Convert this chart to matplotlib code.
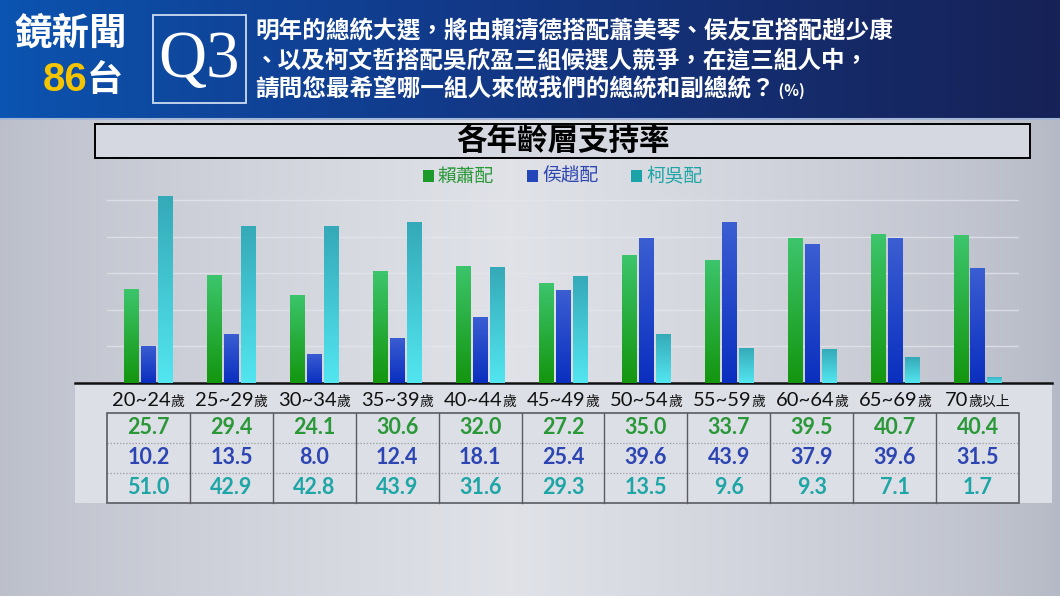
import matplotlib
matplotlib.use('Agg')
import matplotlib.pyplot as plt
import numpy as np
from matplotlib.patches import Rectangle
from matplotlib.colors import LinearSegmentedColormap
from matplotlib.offsetbox import TextArea, HPacker, AnnotationBbox

plt.rcParams['font.family'] = ['Noto Sans CJK TC', 'DejaVu Sans']

# data
age_groups = ['20~24', '25~29', '30~34', '35~39', '40~44', '45~49',
              '50~54', '55~59', '60~64', '65~69', '70']
age_suffix = ['歲'] * 10 + ['歲以上']
lai_hsiao = [25.7, 29.4, 24.1, 30.6, 32.0, 27.2, 35.0, 33.7, 39.5, 40.7, 40.4]
hou_chao = [10.2, 13.5, 8.0, 12.4, 18.1, 25.4, 39.6, 43.9, 37.9, 39.6, 31.5]
ko_wu = [51.0, 42.9, 42.8, 43.9, 31.6, 29.3, 13.5, 9.6, 9.3, 7.1, 1.7]
series_names = ['賴蕭配', '侯趙配', '柯吳配']
series = [lai_hsiao, hou_chao, ko_wu]

title = '各年齡層支持率'
question = ['明年的總統大選，將由賴清德搭配蕭美琴、侯友宜搭配趙少康',
            '、以及柯文哲搭配吳欣盈三組候選人競爭，在這三組人中，',
            '請問您最希望哪一組人來做我們的總統和副總統？']

# colours: (bottom, top) of each bar gradient, then text colour
bar_grads = [('#14960f', '#3cc56c'), ('#0a2fbf', '#3b5ed2'), ('#52e6f0', '#35a9b7')]
text_cols = ['#2a9838', '#2d45b2', '#1ea5a6']
legend_cols = ['#1e9a2a', '#2346b8', '#1aa3a8']

W, H = 1060, 596
fig = plt.figure(figsize=(W / 100, H / 100), dpi=100)

# full-figure axes in pixel coordinates for the backdrop, header and table
bg = fig.add_axes([0, 0, 1, 1])
bg.set_xlim(0, W)
bg.set_ylim(H, 0)
bg.axis('off')

# body background gradient
xs = np.linspace(0, 1, 400)
prof = np.clip(1 - np.abs(xs - 0.48) / 0.52, 0, 1) ** 0.7
body_cm = LinearSegmentedColormap.from_list('body', ['#b5b9c5', '#e0e2e8'])
bg.imshow(prof[None, :], cmap=body_cm, extent=[0, W, H, 118], aspect='auto', zorder=0)

# header band
hx = np.linspace(0, 1, 400) ** 0.8
head_cm = LinearSegmentedColormap.from_list('head', ['#0b55b2', '#123a8a', '#172257'])
bg.imshow(hx[None, :], cmap=head_cm, extent=[0, W, 118, 0], aspect='auto', zorder=0)
bg.plot([0, W], [119, 119], color='#a4b6d6', lw=1.5, zorder=1)

bg.text(71, 33, '鏡新聞', color='white', fontsize=27, fontweight='bold',
        ha='center', va='center')
bg.text(87, 80, '86', color='#f4c400', fontsize=29, fontweight='bold',
        ha='right', va='center', family=['Liberation Sans', 'DejaVu Sans'])
bg.text(87, 80, '台', color='white', fontsize=26, fontweight='bold',
        ha='left', va='center')

bg.add_patch(Rectangle((153, 15), 93, 88, fill=False, ec='#cddcf2', lw=1.3, zorder=2))
bg.text(199, 61, 'Q3', color='white', fontsize=48, ha='center', va='center',
        family=['Liberation Serif', 'DejaVu Serif'])

for i, line in enumerate(question[:2]):
    bg.text(255, 31 + i * 29, line, color='white', fontsize=17,
            fontweight='bold', ha='left', va='center')
q3 = HPacker(children=[TextArea(question[2], textprops=dict(color='white', fontsize=17,
                                                           fontweight='bold')),
                       TextArea(' (%)', textprops=dict(color='white', fontsize=11,
                                                      fontweight='bold'))],
             align='baseline', pad=0, sep=0)
bg.add_artist(AnnotationBbox(q3, (255, 89), xycoords='data', box_alignment=(0, 0.5),
                             frameon=False, pad=0))

# title box
bg.add_patch(Rectangle((95, 124), 935, 34, fc='#d5d8e0', ec='black', lw=1.4, zorder=2))
bg.text(563, 141, title, color='black', fontsize=22, fontweight='bold',
        ha='center', va='center', zorder=3)

# legend
for i, (name, lc, tc) in enumerate(zip(series_names, legend_cols, text_cols)):
    x0 = 423 + i * 104
    bg.add_patch(Rectangle((x0, 170), 11, 12, fc=lc, ec='none', zorder=2))
    bg.text(x0 + 15, 176, name, color=tc, fontsize=13.5, ha='left', va='center')

# table panel
tab_left, tab_right, tab_top = 107, 1019, 413
col_w = (tab_right - tab_left) / len(age_groups)
row_h = 30
bg.add_patch(Rectangle((75, 384), 977, 119, fc='#dcdfe6', ec='none', zorder=1))
bg.plot([75, 1052], [383, 383], color='#111111', lw=1.8, zorder=5)

for r in range(1, 3):
    yy = tab_top + r * row_h
    bg.plot([tab_left, tab_right], [yy, yy], color='#9a9ca3', lw=0.9,
            ls=(0, (1, 1.5)), zorder=2)
for c in range(1, len(age_groups)):
    xx = tab_left + c * col_w
    bg.plot([xx, xx], [tab_top, tab_top + 3 * row_h], color='#5a5c62', lw=1.0, zorder=2)
bg.add_patch(Rectangle((tab_left, tab_top), tab_right - tab_left, 3 * row_h,
                       fill=False, ec='#5a5c62', lw=1.2, zorder=3))

num_font = ['Lato', 'DejaVu Sans']
for c, label in enumerate(age_groups):
    xc = tab_left + (c + 0.5) * col_w
    pack = HPacker(children=[TextArea(label, textprops=dict(color='#111111', fontsize=14.5,
                                                           family=['Lato', 'Noto Sans CJK TC'])),
                             TextArea(age_suffix[c], textprops=dict(color='#111111',
                                                                    fontsize=10))],
                   align='baseline', pad=0, sep=0)
    bg.add_artist(AnnotationBbox(pack, (xc, 400), xycoords='data', box_alignment=(0.5, 0.5),
                                 frameon=False, pad=0))
    for r, vals in enumerate(series):
        bg.text(xc, tab_top + (r + 0.5) * row_h, f'{vals[c]:.1f}', color=text_cols[r],
                fontsize=15.5, fontweight='bold', ha='center', va='center',
                family=num_font, zorder=4)

# bar chart
px_per_unit = 3.66
ymax = 55
base_y = 383
ax = fig.add_axes([tab_left / W, (H - base_y) / H, (tab_right - tab_left) / W,
                   ymax * px_per_unit / H])
ax.set_facecolor('none')
x = np.arange(len(age_groups))
bw = 0.17
offs = [-0.205, 0, 0.205]
grad = np.linspace(0, 1, 128).reshape(-1, 1)
for vals, off, (c_bot, c_top) in zip(series, offs, bar_grads):
    bars = ax.bar(x + off, vals, width=bw, color=c_top, lw=0, zorder=3)
    cm = LinearSegmentedColormap.from_list('g', [c_bot, c_top])
    for rect in bars:
        x0, w, h = rect.get_x(), rect.get_width(), rect.get_height()
        im = ax.imshow(grad, cmap=cm, extent=[x0, x0 + w, 0, h], origin='lower',
                       aspect='auto', zorder=4, interpolation='bilinear')
        im.set_clip_path(rect)

ax.set_xlim(-0.5, len(age_groups) - 0.5)
ax.set_ylim(0, ymax)
ax.set_yticks([10, 20, 30, 40, 50])
ax.yaxis.grid(True, color='#e6e8ee', lw=1.0, alpha=0.7)
ax.set_axisbelow(True)
ax.tick_params(left=False, bottom=False, labelleft=False, labelbottom=False)
for s in ax.spines.values():
    s.set_visible(False)

fig.savefig('out.png', dpi=100)
